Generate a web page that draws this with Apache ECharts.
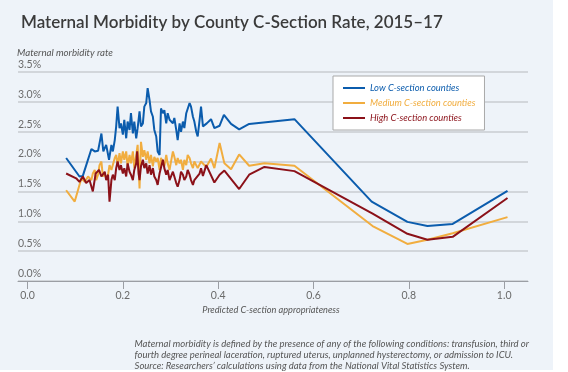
<!DOCTYPE html>
<html>
<head>
<meta charset="utf-8">
<script src="https://cdn.jsdelivr.net/npm/echarts@6/dist/echarts.min.js"></script>
<style>
html,body{margin:0;padding:0;background:#ffffff;}
#wrap{position:relative;width:568px;height:372px;}
#panel{position:absolute;left:0;top:0;width:553px;height:370px;background:#eef3f9;}
#chart{position:absolute;left:0;top:0;width:568px;height:372px;}
</style>
</head>
<body>
<div id="wrap"><div id="panel"></div><div id="chart"></div></div>
<script>
const seriesNames = ['Low C-section counties', 'Medium C-section counties', 'High C-section counties'];
const xTickValues = [0, 0.2, 0.4, 0.6, 0.8, 1.0];

const lowX = [0.081,0.109,0.116,0.134,0.141,0.148,0.155,0.159,0.165,0.171,0.176,0.179,0.183,0.186,0.189,0.193,0.196,0.200,0.203,0.207,0.210,0.214,0.217,0.221,0.224,0.228,0.231,0.235,0.238,0.242,0.245,0.249,0.252,0.256,0.259,0.263,0.266,0.270,0.273,0.277,0.280,0.284,0.287,0.291,0.294,0.298,0.305,0.308,0.312,0.315,0.319,0.322,0.326,0.329,0.333,0.336,0.340,0.343,0.347,0.350,0.354,0.357,0.361,0.364,0.368,0.376,0.385,0.392,0.403,0.412,0.427,0.444,0.465,0.560,0.722,0.797,0.839,0.892,1.007];
const lowY = [2.06,1.75,1.76,2.21,2.17,2.18,2.47,2.17,2.28,2.03,2.28,2.17,2.36,2.59,2.92,2.56,2.64,2.45,2.70,2.39,2.67,2.53,2.81,2.47,2.67,2.39,2.56,2.84,2.59,2.64,2.92,2.98,3.23,3.03,2.84,2.75,2.53,2.42,2.17,2.11,2.89,2.81,2.86,2.64,2.81,2.70,2.64,2.73,2.53,2.36,2.64,2.50,2.67,2.56,2.81,2.78,2.98,2.92,2.75,2.67,2.50,2.42,2.70,2.92,2.59,2.64,2.71,2.56,2.60,2.78,2.63,2.54,2.63,2.71,1.33,0.99,0.92,0.955,1.51];

const medX = [0.081,0.099,0.113,0.120,0.127,0.134,0.137,0.141,0.144,0.148,0.151,0.155,0.158,0.162,0.165,0.169,0.172,0.176,0.179,0.183,0.186,0.189,0.193,0.196,0.200,0.203,0.207,0.210,0.214,0.217,0.221,0.224,0.228,0.231,0.235,0.238,0.242,0.245,0.249,0.252,0.256,0.259,0.263,0.266,0.270,0.273,0.277,0.280,0.284,0.287,0.291,0.294,0.298,0.301,0.305,0.308,0.312,0.315,0.319,0.322,0.326,0.329,0.333,0.336,0.340,0.343,0.347,0.350,0.354,0.357,0.361,0.364,0.368,0.375,0.385,0.392,0.403,0.413,0.427,0.444,0.465,0.497,0.560,0.724,0.797,0.839,0.892,1.007];
const medY = [1.52,1.33,1.72,1.66,1.75,1.69,1.80,1.86,1.69,1.78,1.94,2.00,1.75,1.80,1.72,1.78,1.94,1.86,1.89,2.06,2.11,1.94,2.14,1.97,2.17,2.03,2.17,1.92,2.11,1.97,2.17,1.89,2.11,2.28,1.55,2.33,2.08,2.19,2.03,2.17,1.97,2.11,1.92,2.08,2.00,2.06,1.86,2.06,2.03,1.92,2.11,1.97,1.86,2.00,2.17,2.08,1.94,2.06,1.97,2.03,1.86,2.03,1.94,2.11,2.06,1.97,1.89,2.00,2.03,1.89,1.86,2.00,2.02,1.91,2.05,1.89,2.31,1.97,1.87,2.12,1.93,1.97,1.93,0.92,0.62,0.69,0.80,1.07];

const highX = [0.081,0.102,0.109,0.116,0.123,0.130,0.137,0.143,0.150,0.155,0.162,0.165,0.169,0.172,0.176,0.179,0.183,0.186,0.189,0.193,0.196,0.200,0.203,0.207,0.210,0.214,0.217,0.221,0.224,0.228,0.230,0.233,0.235,0.238,0.242,0.245,0.249,0.252,0.256,0.259,0.263,0.266,0.270,0.273,0.277,0.280,0.284,0.287,0.291,0.294,0.298,0.301,0.305,0.308,0.312,0.315,0.319,0.322,0.326,0.329,0.333,0.336,0.340,0.343,0.347,0.350,0.354,0.361,0.364,0.368,0.375,0.392,0.403,0.413,0.444,0.465,0.497,0.560,0.724,0.797,0.839,0.892,1.007];
const highY = [1.80,1.72,1.66,1.75,1.64,1.69,1.50,1.80,1.86,1.75,1.83,1.69,1.78,1.33,1.69,1.78,1.69,1.89,2.00,1.86,1.94,1.80,1.89,1.75,1.97,1.83,1.78,1.69,1.86,1.97,2.17,1.80,1.69,1.92,2.03,1.89,1.97,1.80,1.94,1.78,1.89,1.75,1.69,1.61,1.80,1.83,2.03,1.89,1.78,1.86,1.69,1.72,1.83,1.75,1.64,1.58,1.69,1.83,1.78,1.69,1.75,1.86,1.78,1.69,1.61,1.69,1.72,1.80,1.89,1.76,1.94,1.65,1.78,1.85,1.54,1.78,1.91,1.84,1.13,0.79,0.69,0.74,1.39];

const colors = ['#0b5cad', '#f1ad3f', '#8b1119'];
const FONT = 'Lato, "Open Sans", sans-serif';

function zip(xs, ys) { return xs.map((x, i) => [x, ys[i]]); }

const chart = echarts.init(document.getElementById('chart'), null, {renderer: 'canvas'});
chart.setOption({
  animation: false,
  backgroundColor: 'transparent',
  textStyle: {fontFamily: FONT},
  title: {
    text: 'Maternal Morbidity by County C-Section Rate, 2015–17',
    left: 16, top: 9,
    textStyle: {fontFamily: FONT, fontSize: 17, fontWeight: 600, color: '#3b3b3b'}
  },
  grid: {left: 18, right: 40, top: 72, bottom: 91, containLabel: false},
  legend: {
    orient: 'vertical',
    left: 333, top: 76,
    backgroundColor: '#ffffff',
    borderColor: '#a9a9a9', borderWidth: 1, borderRadius: 0,
    padding: [5, 9, 5, 10],
    itemWidth: 22, itemHeight: 2, itemGap: 1,
    icon: 'rect',
    textStyle: {fontFamily: FONT, fontSize: 9.4, fontStyle: 'italic', lineHeight: 14},
    data: seriesNames.map((n, i) => ({name: n, textStyle: {color: colors[i]}}))
  },
  xAxis: {
    type: 'value', min: -0.02, max: 1.05,
    axisLine: {show: true, lineStyle: {color: '#9b9ea4', width: 1}},
    axisTick: {show: true, length: 8, customValues: xTickValues, lineStyle: {color: '#9b9ea4'}},
    axisLabel: {customValues: xTickValues, formatter: v => v.toFixed(1), color: '#6b6b6b', fontSize: 10.5, margin: 9, fontFamily: FONT},
    splitLine: {show: false},
    name: 'Predicted C-section appropriateness',
    nameLocation: 'middle', nameGap: 15,
    nameTextStyle: {fontFamily: FONT, fontSize: 9.2, fontStyle: 'italic', color: '#555555', padding: [0, 4, 0, 0]}
  },
  yAxis: {
    type: 'value', min: 0, max: 3.5, interval: 0.5,
    axisLine: {show: false}, axisTick: {show: false},
    axisLabel: {inside: true, margin: 0, verticalAlign: 'bottom', padding: [0, 0, 2, 0],
      formatter: v => v.toFixed(1) + '%', color: '#6b6b6b', fontSize: 10.5, fontFamily: FONT},
    splitLine: {show: true, lineStyle: {color: '#c9ccd1', width: 1.5}}
  },
  graphic: [
    {type: 'text', left: 17, top: 48, style: {text: 'Maternal morbidity rate', fontFamily: FONT, fontSize: 9.7, fontStyle: 'italic', fill: '#555555'}},
    {type: 'text', right: 39, top: 338, style: {
      text: 'Maternal morbidity is defined by the presence of any of the following conditions: transfusion, third or\nfourth degree perineal laceration, ruptured uterus, unplanned hysterectomy, or admission to ICU.\nSource: Researchers\u2019 calculations using data from the National Vital Statistics System.',
      align: 'right', fontFamily: FONT, fontSize: 9.5, fontStyle: 'italic', fill: '#555555', lineHeight: 11}}
  ],
  series: [
    {name: seriesNames[0], type: 'line', data: zip(lowX, lowY), showSymbol: false, symbol: 'none', lineStyle: {width: 2, color: colors[0]}, itemStyle: {color: colors[0]}, z: 3},
    {name: seriesNames[1], type: 'line', data: zip(medX, medY), showSymbol: false, symbol: 'none', lineStyle: {width: 2, color: colors[1]}, itemStyle: {color: colors[1]}, z: 2},
    {name: seriesNames[2], type: 'line', data: zip(highX, highY), showSymbol: false, symbol: 'none', lineStyle: {width: 2, color: colors[2]}, itemStyle: {color: colors[2]}, z: 4}
  ]
});
</script>
</body>
</html>
